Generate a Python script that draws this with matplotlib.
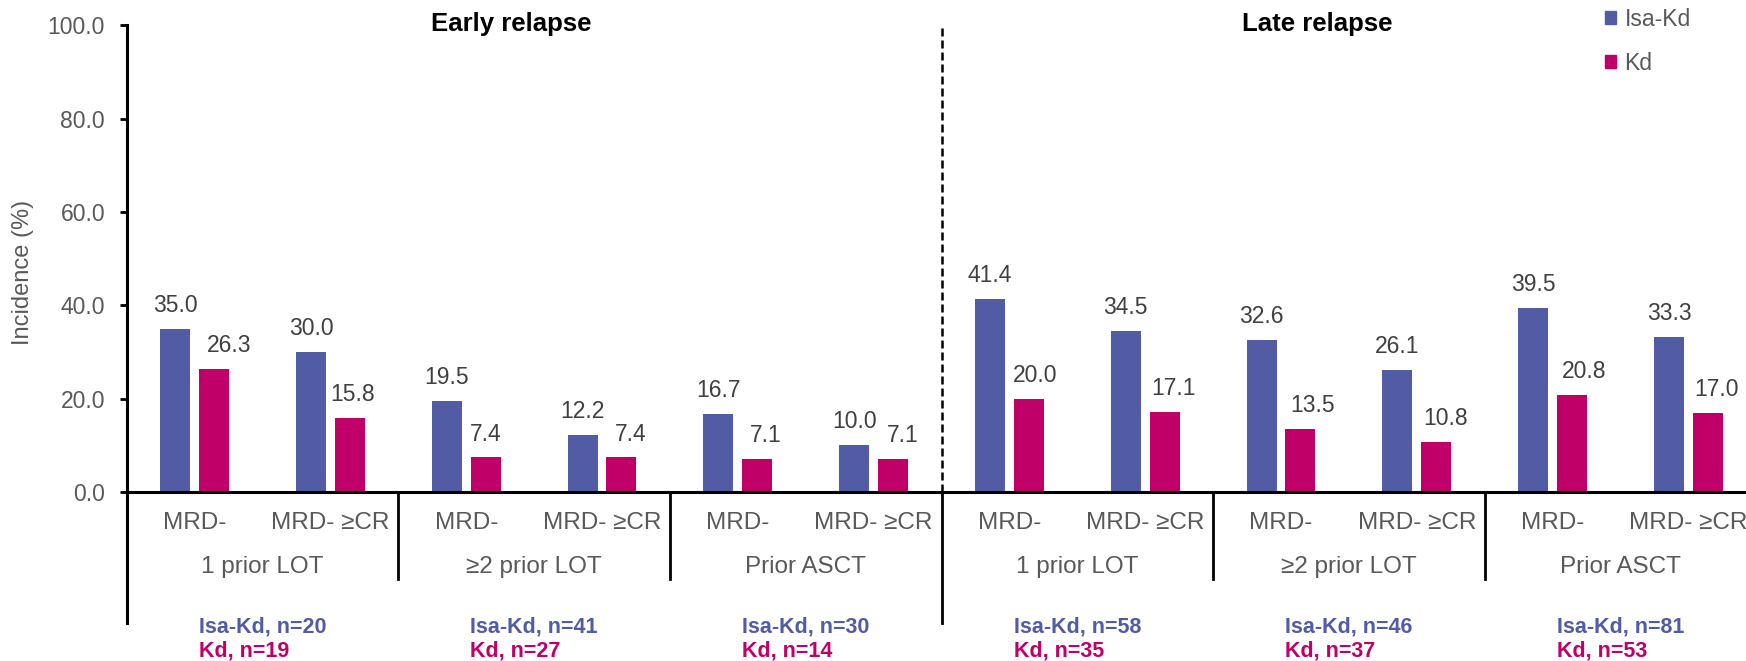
import matplotlib
matplotlib.use("Agg")
import matplotlib.pyplot as plt
from matplotlib.patches import Patch
import numpy as np

plt.rcParams['font.family'] = ['Liberation Sans', 'DejaVu Sans']

# incidence (%) per subgroup, early relapse first then late relapse
categories = ["MRD-", "MRD- \u2265CR"] * 6
groups = ["1 prior LOT", "\u22652 prior LOT", "Prior ASCT"] * 2
isa_kd = [35.0, 30.0, 19.5, 12.2, 16.7, 10.0, 41.4, 34.5, 32.6, 26.1, 39.5, 33.3]
kd = [26.3, 15.8, 7.4, 7.4, 7.1, 7.1, 20.0, 17.1, 13.5, 10.8, 20.8, 17.0]
n_isa = [20, 41, 30, 58, 46, 81]
n_kd = [19, 27, 14, 35, 37, 53]
yticks = [0, 20, 40, 60, 80, 100]

BLUE = '#515CA4'
MAGENTA = '#C00068'
GREY = '#595959'
DARK = '#404040'

# small right nudges (points) for the Kd value labels
kd_dx = [11, 2, 0, 6.5, 6, 7, 4.5, 6.5, 9, 7, 8.5, 6.5]

fig = plt.figure(figsize=(17.46, 6.61), dpi=100)
ax = fig.add_axes([126.7 / 1746, 1 - 492 / 661, 12 * 135.8 / 1746, 466.7 / 661])

x = np.arange(len(categories)) + 0.5
off, w = 0.143, 0.221
ax.bar(x - off, isa_kd, width=w, color=BLUE, zorder=2)
ax.bar(x + off, kd, width=w, color=MAGENTA, zorder=2)

for i in range(len(x)):
    ax.annotate(f"{isa_kd[i]:.1f}", xy=(x[i] - off, isa_kd[i]), xytext=(0, 12.2),
                textcoords='offset points', ha='center', va='baseline',
                fontsize=16.5, color=DARK)
    ax.annotate(f"{kd[i]:.1f}", xy=(x[i] + off, kd[i]), xytext=(kd_dx[i], 12.2),
                textcoords='offset points', ha='center', va='baseline',
                fontsize=16.5, color=DARK)
    ax.annotate(categories[i], xy=(x[i], 0), xytext=(0, -26.9),
                textcoords='offset points', ha='center', va='baseline',
                fontsize=17.5, color=GREY, annotation_clip=False)

for j, g in enumerate(groups):
    xc = 2 * j + 1
    ax.annotate(g, xy=(xc, 0), xytext=(0, -58.5), textcoords='offset points',
                ha='center', va='baseline', fontsize=17.5, color=GREY,
                annotation_clip=False)
    t = ax.annotate(f"Isa-Kd, n={n_isa[j]}", xy=(xc, 0), xytext=(0, -101.3),
                    textcoords='offset points', ha='center', va='baseline',
                    fontsize=15.5, fontweight='bold', color=BLUE,
                    annotation_clip=False)
    ax.annotate(f"Kd, n={n_kd[j]}", xy=(0, 0), xycoords=(t, 'data'),
                xytext=(0, -118.8), textcoords='offset points',
                ha='left', va='baseline', fontsize=15.5, fontweight='bold',
                color=MAGENTA, annotation_clip=False)

# dividers below the axis
for xs in [2, 4, 8, 10]:
    ax.plot([xs, xs], [0, -18.7], color='black', lw=2, clip_on=False)
ax.plot([0, 0], [0, -28], color='black', lw=2.2, clip_on=False)
ax.plot([6, 6], [0, -28], color='black', lw=2, clip_on=False)
ax.plot([6, 6], [0, 100], color='black', lw=1.8, linestyle=(0, (3.2, 1.6)))

ax.text(2.83, 98.8, "Early relapse", ha='center', va='baseline',
        fontsize=18.5, fontweight='bold', color='black')
ax.text(8.765, 98.8, "Late relapse", ha='center', va='baseline',
        fontsize=18.5, fontweight='bold', color='black')

ax.set_xlim(0, 12)
ax.set_ylim(0, 100)
ax.set_xticks([])
ax.set_yticks(yticks)
ax.set_yticklabels([f"{v:.1f}" for v in yticks])
ax.tick_params(axis='y', length=4.8, width=2, pad=10.8, labelsize=16.5,
               labelcolor=GREY)
for s in ['top', 'right']:
    ax.spines[s].set_visible(False)
ax.spines['left'].set_linewidth(2.2)
ax.spines['bottom'].set_linewidth(2.2)

ax.set_ylabel("Incidence (%)", fontsize=17, color=GREY)
ax.yaxis.set_label_coords(-0.0569, 0.47)

fig.legend(handles=[Patch(color=BLUE, label='Isa-Kd'), Patch(color=MAGENTA, label='Kd')],
           loc='upper left', bbox_to_anchor=(1605 / 1746, 1 - 8 / 661),
           frameon=False, fontsize=16.5, handlelength=0.5, handleheight=0.5,
           handletextpad=0.35, labelspacing=0.9, borderpad=0, borderaxespad=0,
           labelcolor=GREY)

fig.savefig("out.png", dpi=100)
